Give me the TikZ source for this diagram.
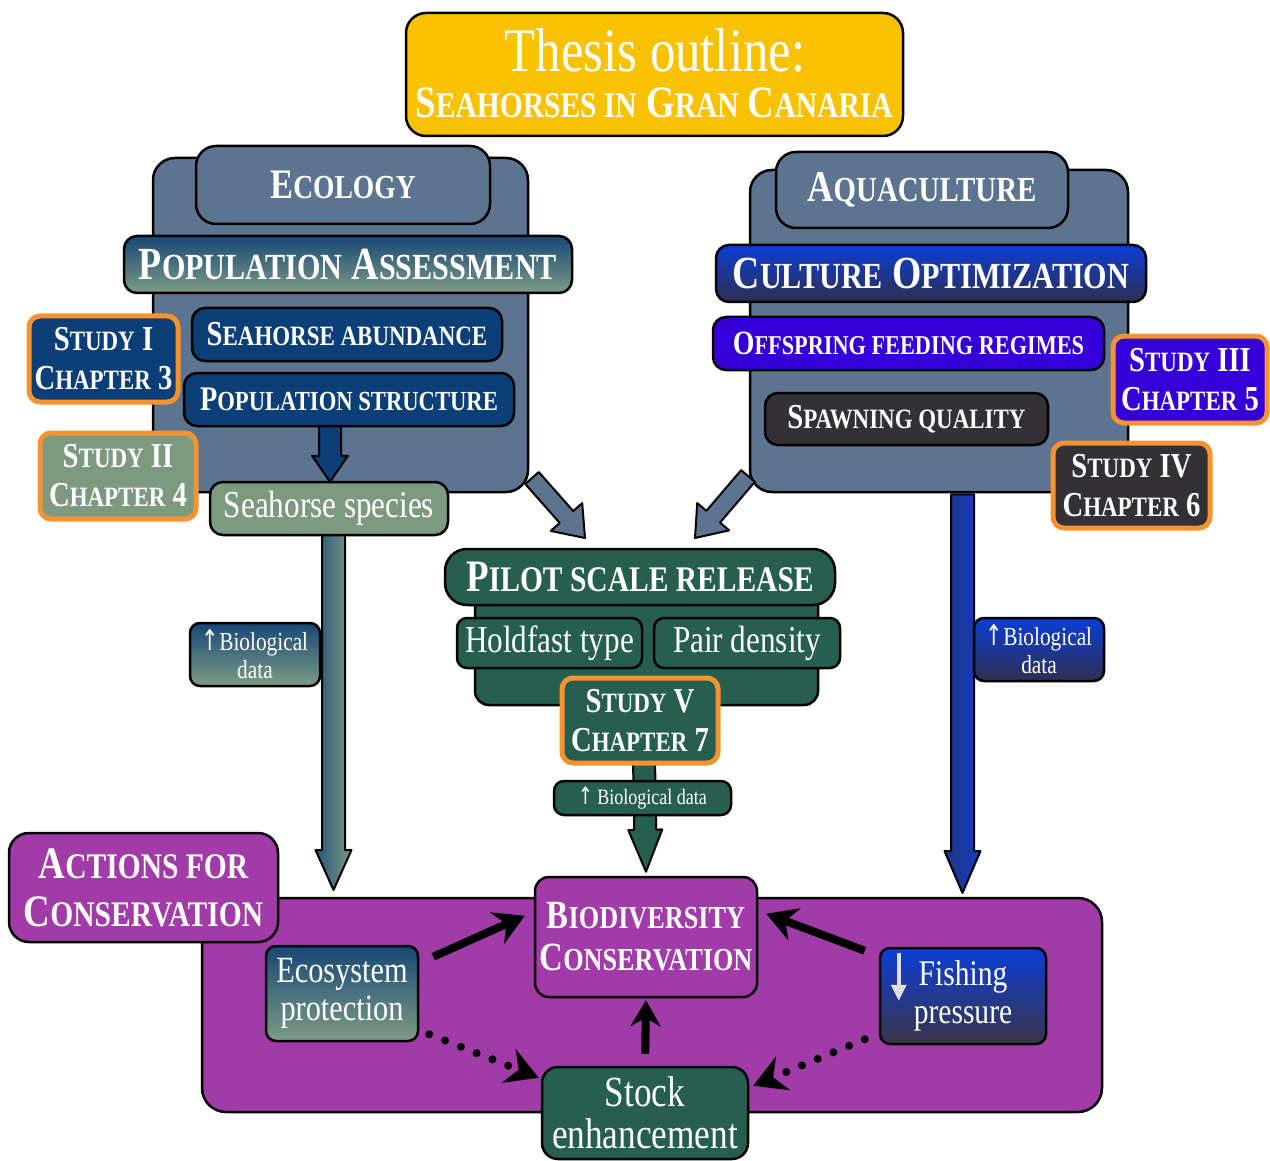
\documentclass[tikz,border=0pt]{standalone}
\usepackage{fontspec}
\setmainfont{Liberation Serif}[FakeStretch=0.82]
\newfontfamily\arrfont{DejaVu Sans}
\usepackage{graphicx}
\usetikzlibrary{calc,arrows.meta}
\definecolor{tyellow}{HTML}{F9C200}
\definecolor{slate}{HTML}{5D7491}
\definecolor{dkblue}{HTML}{0C3F78}
\definecolor{sage}{HTML}{7D9A81}
\definecolor{orng}{HTML}{F59331}
\definecolor{brblue}{HTML}{0B3ED6}
\definecolor{navy}{HTML}{2F2F50}
\definecolor{violet}{HTML}{3500D8}
\definecolor{dkgray}{HTML}{333036}
\definecolor{tgreen}{HTML}{265E4F}
\definecolor{tpurple}{HTML}{A03BA7}
\definecolor{gradtop}{HTML}{174876}
\definecolor{gradbot}{HTML}{7E9B85}
\definecolor{fishbot}{HTML}{3A3548}
\newcommand\sm[1]{\scalebox{0.8}{#1}}
\newcommand\up{{\arrfont\scalebox{0.8}[1.1]{↑}}}
% #1 style, #2 tail, #3 tip, #4 shaft half width, #5 head half width, #6 head length
\newcommand\blockarrow[6]{%
  \path ($(#3)!#6!(#2)$) coordinate (ba-h);
  \draw[#1] ($(#2)!#4!90:(#3)$) -- ($(ba-h)!#4!-90:(#2)$) -- ($(ba-h)!#5!-90:(#2)$)
    -- (#3) -- ($(ba-h)!#5!90:(#2)$) -- ($(ba-h)!#4!90:(#2)$) -- ($(#2)!#4!-90:(#3)$) -- cycle;}
\pgfdeclarelayer{bg}
\pgfdeclarelayer{mid}
\pgfsetlayers{bg,mid,main}
\begin{document}
\begin{tikzpicture}[x=1pt,y=-1pt,
  box/.style={draw=black, line width=2.5pt, rounded corners=13pt, text=white, align=center, inner sep=0pt},
  sz/.style 2 args={minimum width=#1, minimum height=#2},
  study/.style={box, draw=orng, line width=5pt, rounded corners=11pt, font=\fontsize{35}{39}\selectfont\bfseries},
  blk/.style={draw=black, line width=2pt, line join=round},
  bigarrow/.style={line width=8pt, -{Stealth[length=30pt,width=34pt]}},
  dotarrow/.style={line width=8pt, line cap=round, dash pattern=on 0pt off 17pt, -{Stealth[length=32pt,width=36pt]}}
]
\useasboundingbox (0,0) rectangle (1270,1161);

% ---------- background panels ----------
\begin{pgfonlayer}{bg}
\fill[white] (0,0) rectangle (1270,1161);
\node[box, fill=slate, rounded corners=22pt, sz={375}{334}] (ecopanel) at (340.5,325) {};
\node[box, fill=slate, rounded corners=22pt, sz={378}{322}] (aquapanel) at (939,331) {};
\node[box, fill=tgreen, rounded corners=14pt, sz={343}{120}] (pilotpanel) at (646.5,645) {};
\node[box, fill=tpurple, rounded corners=24pt, sz={900}{214}] (actpanel) at (652,1005) {};
\end{pgfonlayer}

% ---------- title ----------
\node[box, fill=tyellow, rounded corners=20pt, sz={497}{123}] (title) at (654.5,74.5) {};
\node[text=white, anchor=base, font=\fontsize{62}{64}\selectfont] (title1) at (655,72) {Thesis outline:};
\node[text=white, anchor=base, font=\fontsize{45}{48}\selectfont\bfseries] (title2) at (654,118) {S\sm{EAHORSES IN} G\sm{RAN} C\sm{ANARIA}};

% ---------- ecology ----------
\node[box, fill=slate, rounded corners=20pt, sz={294}{78}, font=\fontsize{42}{46}\selectfont\bfseries] (ecotab) at (343,185) {E\sm{COLOGY}};
\node[box, top color=gradtop, bottom color=gradbot, sz={448}{57}, font=\fontsize{46}{48}\selectfont\bfseries] (popassess) at (348,264.5) {P\sm{OPULATION} A\sm{SSESSMENT}};
\node[box, fill=dkblue, sz={310}{53}, font=\fontsize{35}{38}\selectfont\bfseries] (abund) at (347,334.5) {S\sm{EAHORSE ABUNDANCE}};
\node[box, fill=dkblue, sz={330}{53}, font=\fontsize{34.5}{38}\selectfont\bfseries] (popstruct) at (349,399.5) {P\sm{OPULATION STRUCTURE}};
\node[study, fill=dkblue, sz={149}{86}] (study1) at (103.5,359) {S\sm{TUDY} I\\C\sm{HAPTER} 3};
\node[study, fill=sage, sz={156}{86}] (study2) at (118,476) {S\sm{TUDY} II\\C\sm{HAPTER} 4};
\node[box, fill=sage, sz={238}{53}, font=\fontsize{38}{40}\selectfont] (species) at (329,508.5) {Seahorse species};

% ---------- aquaculture ----------
\node[box, fill=slate, rounded corners=20pt, sz={292}{76}, font=\fontsize{44}{47}\selectfont\bfseries] (aquatab) at (922,190) {A\sm{QUACULTURE}};
\node[box, top color=brblue, bottom color=navy, sz={430}{57}, font=\fontsize{46}{48}\selectfont\bfseries] (culture) at (931,273.5) {C\sm{ULTURE} O\sm{PTIMIZATION}};
\node[box, fill=violet, sz={391}{53}, font=\fontsize{34}{36}\selectfont\bfseries] (offspring) at (908.5,343.5) {O\sm{FFSPRING FEEDING REGIMES}};
\node[box, fill=dkgray, sz={283}{52}, font=\fontsize{35}{38}\selectfont\bfseries] (spawning) at (906.5,419) {S\sm{PAWNING QUALITY}};
\node[study, fill=violet, sz={154}{87}] (study3) at (1190,379.5) {S\sm{TUDY} III\\C\sm{HAPTER} 5};
\node[study, fill=dkgray, sz={157}{85}] (study4) at (1131.5,485.5) {S\sm{TUDY} IV\\C\sm{HAPTER} 6};

% ---------- pilot ----------
\node[box, fill=tgreen, rounded corners=22pt, sz={390}{56}, font=\fontsize{45}{48}\selectfont\bfseries] (pilot) at (640,577) {P\sm{ILOT SCALE RELEASE}};
\node[box, fill=tgreen, rounded corners=10pt, sz={185}{50}, font=\fontsize{38}{40}\selectfont] (holdfast) at (549.5,643) {Holdfast type};
\node[box, fill=tgreen, rounded corners=10pt, sz={186}{50}, font=\fontsize{38}{40}\selectfont] (pair) at (747,643) {Pair density};
\node[study, fill=tgreen, sz={156}{85}] (study5) at (640,720.5) {S\sm{TUDY} V\\C\sm{HAPTER} 7};
\node[box, fill=tgreen, rounded corners=10pt, sz={177}{34}, font=\fontsize{22}{24}\selectfont] (biodataC) at (642.5,798) {\up\ Biological data};

% ---------- biological data side labels ----------
\node[box, top color=gradtop, bottom color=gradbot, rounded corners=10pt, sz={130}{63}, font=\fontsize{26}{28}\selectfont] (biodataL) at (255,654.5) {\up Biological\\data};
\node[box, top color=brblue, bottom color=navy, rounded corners=10pt, sz={130}{63}, font=\fontsize{26}{28}\selectfont] (biodataR) at (1039,649.5) {\up Biological\\data};

% ---------- actions for conservation ----------
\node[box, fill=tpurple, rounded corners=20pt, sz={269}{109}, font=\fontsize{45}{48}\selectfont\bfseries] (actlabel) at (143.5,887.5) {A\sm{CTIONS FOR}\\C\sm{ONSERVATION}};
\node[box, fill=tpurple, rounded corners=14pt, sz={222}{120}, font=\fontsize{40}{42}\selectfont\bfseries] (biodiv) at (646,937) {B\sm{IODIVERSITY}\\C\sm{ONSERVATION}};
\node[box, top color=gradtop, bottom color=gradbot, rounded corners=10pt, sz={152}{95}, font=\fontsize{37}{38}\selectfont] (ecoprot) at (342,993.5) {Ecosystem\\protection};
\node[box, top color=brblue, bottom color=fishbot, rounded corners=10pt, sz={166}{96}, font=\fontsize{36}{38}\selectfont] (fishing) at (963,996) {Fishing\\pressure};
\node[box, fill=tgreen, rounded corners=16pt, sz={206}{92}, font=\fontsize{43}{42}\selectfont] (stock) at (645,1113) {Stock\\enhancement};
\draw[white!88!black, line width=3.5pt, -{Triangle[length=16pt,width=15pt]}] ([xshift=20pt,yshift=-6pt]fishing.north west) -- ([xshift=20pt,yshift=-54pt]fishing.north west);

% ---------- block arrows ----------
\begin{pgfonlayer}{mid}
\coordinate (aL1) at ([xshift=4.5pt,yshift=5pt]species.south);
\coordinate (aL2) at (333.5,890);
\blockarrow{blk, left color=gradtop!85!sage, right color=sage}{aL1}{aL2}{11.5pt}{18pt}{40pt}
\coordinate (aR1) at ([xshift=23.5pt,yshift=-1pt]aquapanel.south);
\coordinate (aR2) at (962.5,893);
\blockarrow{blk, left color=navy!60!brblue, right color=brblue!80!navy}{aR1}{aR2}{11.5pt}{18pt}{42pt}
\coordinate (aS1) at ([xshift=-19pt,yshift=2pt]popstruct.south);
\coordinate (aS2) at ([xshift=1pt,yshift=-1pt]species.north);
\blockarrow{blk, fill=dkblue}{aS1}{aS2}{11pt}{18pt}{26pt}
\coordinate (aC1) at ([xshift=4pt,yshift=6pt]study5.south);
\coordinate (aC2) at ([yshift=4pt]biodiv.north);
\blockarrow{blk, fill=tgreen}{aC1}{aC2}{11pt}{17pt}{42pt}
\coordinate (dL1) at (532,478);
\coordinate (dL2) at (585,538);
\blockarrow{blk, fill=slate}{dL1}{dL2}{9pt}{21pt}{28pt}
\coordinate (dR1) at (748,476);
\coordinate (dR2) at (695,538);
\blockarrow{blk, fill=slate}{dR1}{dR2}{9pt}{21pt}{28pt}
\end{pgfonlayer}

% ---------- conservation arrows ----------
\draw[bigarrow] ([xshift=14pt,yshift=-12pt]ecoprot.north east) -- ([xshift=-9pt,yshift=-40pt]biodiv.north west);
\draw[bigarrow] ([xshift=-14pt,yshift=-4pt]fishing.north west) -- ([xshift=8pt,yshift=-38pt]biodiv.north east);
\draw[bigarrow, -{Stealth[length=26pt,width=30pt]}, shorten <=12pt, shorten >=2pt] (stock.north) -- (biodiv.south);
\draw[dotarrow] ([xshift=10pt,yshift=8pt]ecoprot.south east) -- ([xshift=-2pt,yshift=-12pt]stock.north west);
\draw[dotarrow] ([xshift=-14pt,yshift=6pt]fishing.south west) -- ([xshift=4pt,yshift=-20pt]stock.north east);
\end{tikzpicture}
\end{document}
